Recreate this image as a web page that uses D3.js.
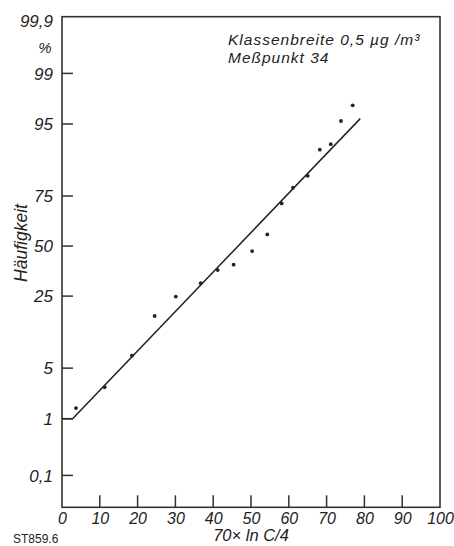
<!DOCTYPE html>
<html>
<head>
<meta charset="utf-8">
<script src="https://cdnjs.cloudflare.com/ajax/libs/d3/7.8.5/d3.min.js"></script>
<style>
  html, body { margin: 0; padding: 0; background: #fff; }
  text { font-family: "Liberation Sans", Arial, sans-serif; fill: #222; }
</style>
</head>
<body>
<div id="chart"></div>
<script>
// measured points (x = 70 x ln C/4, p = Häufigkeit in %)
const pointX = [3.7, 11.3, 18.5, 24.5, 30.1, 36.7, 41.2, 45.4, 50.3, 54.3, 58.1, 61.1, 65.0, 68.2, 71.1, 73.8, 76.9];
const pointP = [1.45, 2.86, 7.0, 17.3, 24.8, 30.8, 37.3, 40.1, 47.3, 56.2, 71.7, 78.4, 82.8, 90.3, 91.5, 95.4, 97.1];

// fitted line
const fitX = [0, 2.8, 78.9];
const fitP = [1, 1, 95.7];

// ticks
const xTicks = [0, 10, 20, 30, 40, 50, 60, 70, 80, 90, 100];
const yTicks = [99, 95, 75, 50, 25, 5, 1, 0.1];
const yLabels = ["99", "95", "75", "50", "25", "5", "1", "0,1"];

// inverse normal cdf (Acklam), used for the probability axis
function probit(p) {
    const a = [-39.6968302866538, 220.946098424521, -275.928510446969, 138.357751867269, -30.6647980661472, 2.50662827745924];
    const b = [-54.4760987982241, 161.585836858041, -155.698979859887, 66.8013118877197, -13.2806815528857];
    const c = [-0.00778489400243029, -0.322396458041136, -2.40075827716184, -2.54973253934373, 4.37466414146497, 2.93816398269878];
    const d = [0.00778469570904146, 0.32246712907004, 2.445134137143, 3.75440866190742];
    const pl = 0.02425;
    let q, r;
    if (p < pl) {
        q = Math.sqrt(-2 * Math.log(p));
        return (((((c[0]*q+c[1])*q+c[2])*q+c[3])*q+c[4])*q+c[5]) / ((((d[0]*q+d[1])*q+d[2])*q+d[3])*q+1);
    }
    if (p > 1 - pl) {
        q = Math.sqrt(-2 * Math.log(1 - p));
        return -(((((c[0]*q+c[1])*q+c[2])*q+c[3])*q+c[4])*q+c[5]) / ((((d[0]*q+d[1])*q+d[2])*q+d[3])*q+1);
    }
    q = p - 0.5;
    r = q * q;
    return (((((a[0]*r+a[1])*r+a[2])*r+a[3])*r+a[4])*r+a[5])*q / (((((b[0]*r+b[1])*r+b[2])*r+b[3])*r+b[4])*r+1);
}

function drawChart() {
    const WIDTH = 454, HEIGHT = 546;
    const left = 62, right = 440, top = 16.7, bottom = 507.3;

    const svg = d3.select("#chart")
        .append("svg")
        .attr("width", WIDTH)
        .attr("height", HEIGHT);

    const xScale = d3.scaleLinear().domain([0, 100]).range([left, right]);

    // probability paper: linear in the normal quantile
    const zScale = d3.scaleLinear().domain([-3.52, probit(0.999)]).range([bottom, top]);
    const yScale = p => zScale(probit(p / 100));

    // frame
    svg.append("rect")
        .attr("x", left).attr("y", top)
        .attr("width", right - left).attr("height", bottom - top)
        .attr("fill", "none")
        .attr("stroke", "#333")
        .attr("stroke-width", 1.6);

    // x axis (ticks pointing inward)
    const xAxis = svg.append("g")
        .attr("transform", `translate(0,${bottom})`)
        .call(d3.axisBottom(xScale).tickValues(xTicks).tickSize(0).tickPadding(5).tickFormat(d => d));
    xAxis.select(".domain").remove();
    xAxis.selectAll("text")
        .attr("font-size", "16px")
        .attr("font-style", "italic")
        .attr("fill", "#222");

    svg.selectAll(".xtick")
        .data(xTicks.slice(1, -1))
        .enter()
        .append("line")
        .attr("class", "xtick")
        .attr("x1", d => xScale(d)).attr("x2", d => xScale(d))
        .attr("y1", bottom).attr("y2", bottom - 12)
        .attr("stroke", "#333")
        .attr("stroke-width", 1.5);

    // y axis
    svg.selectAll(".ytick")
        .data(yTicks)
        .enter()
        .append("line")
        .attr("class", "ytick")
        .attr("x1", left).attr("x2", left + 11)
        .attr("y1", d => yScale(d)).attr("y2", d => yScale(d))
        .attr("stroke", "#333")
        .attr("stroke-width", 1.5);

    svg.selectAll(".ylabel")
        .data(yTicks)
        .enter()
        .append("text")
        .attr("class", "ylabel")
        .attr("x", left - 9)
        .attr("y", d => yScale(d))
        .attr("dy", "0.36em")
        .attr("text-anchor", "end")
        .attr("font-size", "17px")
        .attr("font-style", "italic")
        .text((d, i) => yLabels[i]);

    svg.append("text")
        .attr("x", left - 9)
        .attr("y", yScale(99.9) + 4)
        .attr("dy", "0.36em")
        .attr("text-anchor", "end")
        .attr("font-size", "17px")
        .attr("font-style", "italic")
        .text("99,9");

    svg.append("text")
        .attr("x", 45)
        .attr("y", 53)
        .attr("text-anchor", "middle")
        .attr("font-size", "15px")
        .attr("font-style", "italic")
        .text("%");

    // axis titles
    svg.append("text")
        .attr("transform", "translate(27,243) rotate(-90)")
        .attr("text-anchor", "middle")
        .attr("font-size", "17.5px")
        .attr("font-style", "italic")
        .text("Häufigkeit");

    svg.append("text")
        .attr("x", 251)
        .attr("y", 541)
        .attr("text-anchor", "middle")
        .attr("font-size", "16.5px")
        .attr("font-style", "italic")
        .text("70× ln C/4");

    svg.append("text")
        .attr("x", 13)
        .attr("y", 543)
        .attr("font-size", "12px")
        .text("ST859.6");

    // note
    const note = svg.append("text")
        .attr("x", 228)
        .attr("font-size", "15.5px")
        .attr("font-style", "italic")
        .attr("letter-spacing", "1px");
    note.append("tspan").attr("x", 228).attr("y", 44.5).text("Klassenbreite 0,5 µg /m³");
    note.append("tspan").attr("x", 228).attr("y", 63).text("Meßpunkt 34");

    // fitted line
    const fit = fitX.map((x, i) => ({ x: x, p: fitP[i] }));
    svg.append("path")
        .datum(fit)
        .attr("d", d3.line().x(d => xScale(d.x)).y(d => yScale(d.p)))
        .attr("fill", "none")
        .attr("stroke", "#222")
        .attr("stroke-width", 1.5);

    // points
    const points = pointX.map((x, i) => ({ x: x, p: pointP[i] }));
    svg.selectAll(".dot")
        .data(points)
        .enter()
        .append("circle")
        .attr("class", "dot")
        .attr("cx", d => xScale(d.x))
        .attr("cy", d => yScale(d.p))
        .attr("r", 1.9)
        .attr("fill", "#222");
}

drawChart();
</script>
</body>
</html>
